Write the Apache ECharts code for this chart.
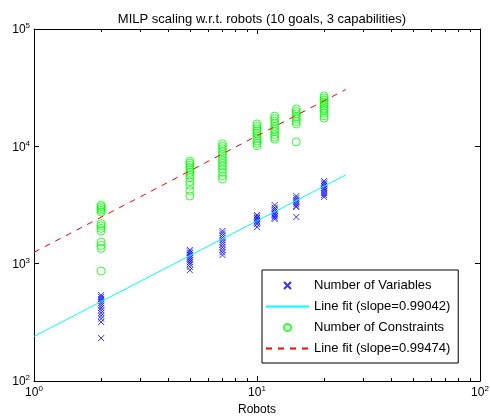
<!DOCTYPE html>
<html>
<head>
<meta charset="utf-8">
<script src="https://cdn.jsdelivr.net/npm/echarts@6/dist/echarts.min.js"></script>
<style>html,body{margin:0;padding:0;background:#fff;}#c{width:491px;height:418px;}</style>
</head>
<body>
<div id="c"></div>
<script>
// ---- data ----
const robots = [2, 5, 7, 10, 12, 15, 20];
const vars2  = [540, 520, 500, 480, 460, 440, 420, 400, 380, 360, 340, 318, 232];
const vars5  = [1310, 1270, 1230, 1190, 1150, 1110, 1070, 1030, 990, 940, 880];
const vars7  = [1900, 1820, 1740, 1660, 1590, 1520, 1450, 1380, 1310, 1250, 1185];
const vars10 = [2600, 2520, 2450, 2380, 2310, 2240, 2170, 2050];
const vars12 = [3160, 3000, 2900, 2800, 2700, 2620, 2540, 2470, 2400];
const vars15 = [3770, 3620, 3480, 3350, 3220, 3100, 3040, 2500];
const vars20 = [5060, 4900, 4750, 4600, 4460, 4320, 4180, 4000, 3850, 3700];
const cons2  = [3150, 3050, 2950, 2850, 2750, 2200, 2100, 2000, 1900, 1530, 1430, 1350, 865];
const cons5  = [7500, 7200, 6900, 6600, 6300, 6000, 5700, 5400, 5000, 4650, 4200, 3770];
const cons7  = [10500, 10000, 9500, 9000, 8500, 8000, 7600, 7200, 6800, 6400, 6000, 5600, 5260];
const cons10 = [15500, 14800, 14100, 13500, 12900, 12300, 11700, 11100, 10600, 10100];
const cons12 = [18100, 17200, 16400, 15600, 14800, 14000, 13300, 12600, 12000, 11500];
const cons15 = [20800, 19800, 18900, 18000, 17200, 16300, 15500, 10900];
const cons20 = [26900, 25800, 24800, 23800, 22900, 22000, 21100, 20300, 19200, 18200, 17400];
const varsFitX = [1, 25];
const varsFitY = [240, 5700];
const consFitX = [1, 25];
const consFitY = [1250, 30500];
const seriesNames = ['Number of Variables', 'Line fit (slope=0.99042)', 'Number of Constraints', 'Line fit (slope=0.99474)'];
const titleText = 'MILP scaling w.r.t. robots (10 goals, 3 capabilities)';
const xName = 'Robots';
const minorX = [2, 3, 4, 5, 6, 7, 8, 9, 20, 30, 40, 50, 60, 70, 80, 90];
const minorY = [200, 300, 400, 500, 600, 700, 800, 900, 2000, 3000, 4000, 5000, 6000, 7000, 8000, 9000, 20000, 30000, 40000, 50000, 60000, 70000, 80000, 90000];

// ---- build ----
const varGroups = [vars2, vars5, vars7, vars10, vars12, vars15, vars20];
const conGroups = [cons2, cons5, cons7, cons10, cons12, cons15, cons20];
const toPts = groups => groups.flatMap((g, i) => g.map(v => [robots[i], v]));
const FONT = 'Liberation Sans, Arial, Helvetica, sans-serif';
const X_MIN = 1, X_MAX = 100, Y_MIN = 100, Y_MAX = 100000;

const supFmt = v => '{b|10}{s|' + Math.round(Math.log10(v)) + '}';
const richLab = {
  b: { fontSize: 12, fontFamily: FONT, color: '#000', lineHeight: 14, verticalAlign: 'bottom' },
  s: { fontSize: 8, fontFamily: FONT, color: '#000', lineHeight: 8, verticalAlign: 'top' }
};
const axisCommon = {
  axisLine: { show: true, onZero: false, lineStyle: { color: '#000', width: 1 } },
  axisTick: { show: true, inside: true, length: 5, lineStyle: { color: '#000', width: 1 } },
  splitLine: { show: false },
  minorTick: { show: false }
};
const crossPath = 'path://M0,0L10,10M10,0L0,10';

function minorRender(isX) {
  return function (params, api) {
    const v = api.value(0);
    let a, b, l1, l2;
    if (isX) {
      a = api.coord([v, Y_MIN]); b = api.coord([v, Y_MAX]);
      const x = Math.round(a[0]) + 0.5;
      l1 = { x1: x, y1: a[1], x2: x, y2: a[1] - 3 };
      l2 = { x1: x, y1: b[1], x2: x, y2: b[1] + 3 };
    } else {
      a = api.coord([X_MIN, v]); b = api.coord([X_MAX, v]);
      const y = Math.round(a[1]) + 0.5;
      l1 = { x1: a[0], y1: y, x2: a[0] + 3, y2: y };
      l2 = { x1: b[0], y1: y, x2: b[0] - 3, y2: y };
    }
    const st = { stroke: '#000', lineWidth: 1 };
    return { type: 'group', children: [
      { type: 'line', shape: l1, style: st },
      { type: 'line', shape: l2, style: st }
    ] };
  };
}

const chart = echarts.init(document.getElementById('c'), null, { renderer: 'canvas' });
chart.setOption({
  animation: false,
  backgroundColor: '#fff',
  title: {
    text: titleText, left: 257, top: 8, textAlign: 'center',
    textStyle: { fontSize: 13, fontWeight: 'normal', color: '#000', fontFamily: FONT }
  },
  grid: { left: 34, right: 11, top: 29, bottom: 37, containLabel: false, outerBoundsMode: 'none' },
  xAxis: [
    Object.assign({
      type: 'log', logBase: 10, min: X_MIN, max: X_MAX, position: 'bottom',
      name: xName, nameLocation: 'middle', nameGap: 17,
      nameTextStyle: { fontSize: 12, color: '#000', fontFamily: FONT },
      axisLabel: { show: true, margin: 4, formatter: supFmt, rich: richLab }
    }, axisCommon),
    Object.assign({
      type: 'log', logBase: 10, min: X_MIN, max: X_MAX, position: 'top',
      axisLabel: { show: false }
    }, axisCommon)
  ],
  yAxis: [
    Object.assign({
      type: 'log', logBase: 10, min: Y_MIN, max: Y_MAX, position: 'left',
      axisLabel: { show: true, margin: 4, formatter: supFmt, rich: richLab }
    }, axisCommon),
    Object.assign({
      type: 'log', logBase: 10, min: Y_MIN, max: Y_MAX, position: 'right',
      axisLabel: { show: false }
    }, axisCommon)
  ],
  legend: {
    orient: 'vertical', left: 262, top: 270,
    padding: [5, 8, 4, 3], itemGap: 0, itemWidth: 43, itemHeight: 7,
    backgroundColor: '#fff', borderColor: '#000', borderWidth: 1, borderRadius: 0,
    textStyle: { fontSize: 13, color: '#000', fontFamily: FONT, lineHeight: 21 },
    data: [
      { name: seriesNames[0] },
      { name: seriesNames[1], itemStyle: { opacity: 0 } },
      { name: seriesNames[2] },
      { name: seriesNames[3], itemStyle: { opacity: 0 } }
    ]
  },
  series: [
    {
      name: seriesNames[0], type: 'scatter', data: toPts(varGroups),
      symbol: crossPath, symbolSize: 6,
      itemStyle: { color: 'rgba(0,0,0,0)', borderColor: '#0000ff', borderWidth: 1 }
    },
    {
      name: seriesNames[1], type: 'line', data: varsFitX.map((x, i) => [x, varsFitY[i]]),
      symbol: 'none', lineStyle: { color: '#00ffff', width: 1 }, itemStyle: { color: '#00ffff' }
    },
    {
      name: seriesNames[2], type: 'scatter', data: toPts(conGroups),
      symbol: 'circle', symbolSize: 8,
      itemStyle: { color: 'rgba(0,0,0,0)', borderColor: '#00ff00', borderWidth: 1 }
    },
    {
      name: seriesNames[3], type: 'line', data: consFitX.map((x, i) => [x, consFitY[i]]),
      symbol: 'none', lineStyle: { color: '#ff0000', width: 1, type: [6, 6] }, itemStyle: { color: '#ff0000' }
    },
    {
      type: 'custom', silent: true, data: minorX.map(v => [v, Y_MIN]),
      renderItem: minorRender(true), z: 10
    },
    {
      type: 'custom', silent: true, data: minorY.map(v => [X_MIN, v]),
      renderItem: minorRender(false), z: 10
    }
  ]
});
</script>
</body>
</html>
